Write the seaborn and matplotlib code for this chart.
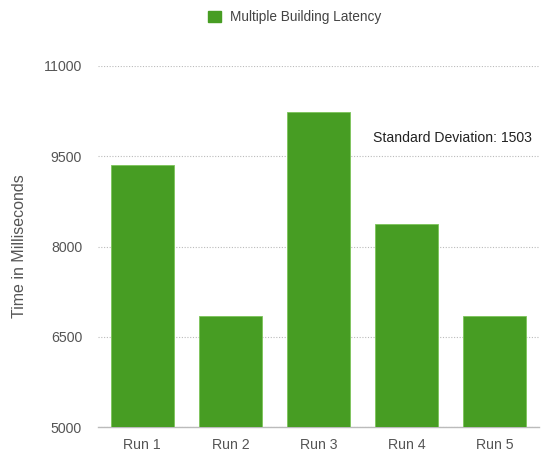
import matplotlib
matplotlib.use("Agg")
import matplotlib.pyplot as plt
import seaborn as sns
import pandas as pd
from matplotlib.patches import Patch

runs = ["Run 1", "Run 2", "Run 3", "Run 4", "Run 5"]
latency_ms = [9353, 6842, 10232, 8374, 6852]
y_ticks = [5000, 6500, 8000, 9500, 11000]
series_name = "Multiple Building Latency"
annotation = "Standard Deviation: 1503"
y_label = "Time in Milliseconds"

sns.set_style("white")
plt.rcParams["font.family"] = ["Liberation Sans", "DejaVu Sans"]

df = pd.DataFrame({"run": runs, "latency": latency_ms})

fig = plt.figure(figsize=(5.41, 4.51), dpi=100)
ax = fig.add_axes([0.1812, 0.0525, 0.8151, 0.8018])

bar_color = "#479d23"
sns.barplot(data=df, x="run", y="latency", color=bar_color, width=0.715,
            saturation=1, ax=ax, edgecolor="#7cc45a", linewidth=0.6, zorder=3)

ax.set_ylim(5000, 11000)
ax.set_xlim(-0.5, 4.5)
ax.set_yticks(y_ticks)
ax.set_yticklabels([str(t) for t in y_ticks])
ax.yaxis.grid(True, linestyle=(0, (1, 1.5)), color="#bbbbbb", linewidth=0.8, zorder=0)
ax.xaxis.grid(False)
for s in ["top", "right", "left"]:
    ax.spines[s].set_visible(False)
ax.spines["bottom"].set_color("#bbbbbb")
ax.spines["bottom"].set_linewidth(1.0)
ax.tick_params(axis="both", length=0, labelsize=10.2, colors="#555555")
ax.tick_params(axis="y", pad=11.5)
ax.tick_params(axis="x", pad=7.5)
ax.set_xlabel("")
ax.set_ylabel(y_label, fontsize=11.5, color="#555555")
ax.yaxis.set_label_coords((27.5 - 98.3) / 441.0, 0.5)

ax.text((532 - 98.3) / 441.0, (427.3 - 138) / 361.6, annotation, transform=ax.transAxes,
        ha="right", va="center", fontsize=10.1, color="#222222")

handles = [Patch(facecolor=bar_color, edgecolor=bar_color, label=series_name)]
fig.legend(handles=handles, loc="center", bbox_to_anchor=(0.545, 0.962), frameon=False,
           fontsize=9.8, handlelength=0.9, handleheight=0.9, handletextpad=0.7,
           labelcolor="#444444")

fig.savefig("out.png", dpi=100)
